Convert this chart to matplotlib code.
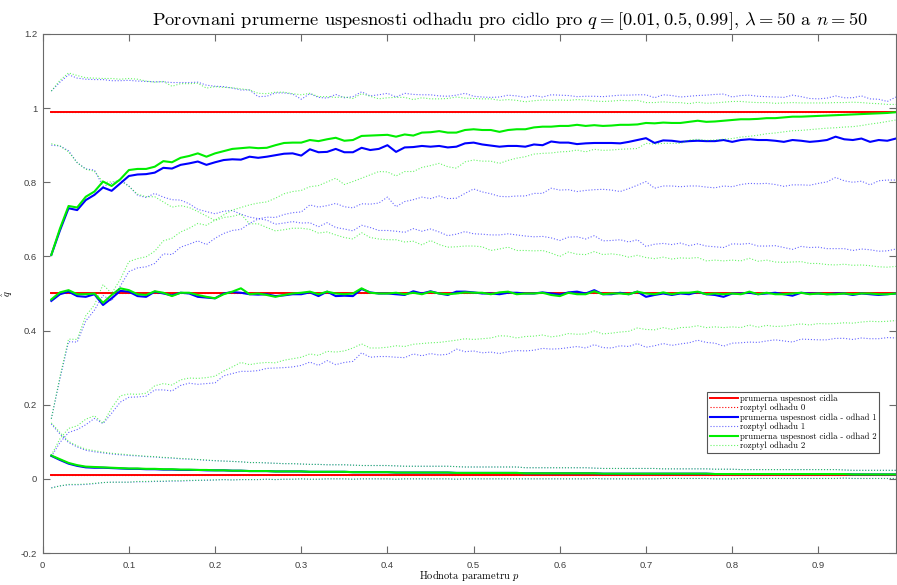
import numpy as np
import matplotlib
matplotlib.use('Agg')
import matplotlib.pyplot as plt

plt.rcParams['mathtext.fontset'] = 'cm'
plt.rcParams['axes.unicode_minus'] = False

# success probability of the sensor and parameter grid
q_values = [0.01, 0.5, 0.99]
p = np.arange(1, 100) / 100

# estimate 1 (blue): mean and spread for each q
m1_01 = [0.062, 0.051, 0.041, 0.035, 0.031, 0.030, 0.030, 0.029, 0.028, 0.027,
         0.027, 0.026, 0.026, 0.025, 0.025, 0.024, 0.024, 0.024, 0.023, 0.023,
         0.023, 0.022, 0.022, 0.021, 0.021, 0.021, 0.020, 0.020, 0.020, 0.020,
         0.019, 0.019, 0.019, 0.019, 0.019, 0.018, 0.018, 0.018, 0.018, 0.018,
         0.017, 0.017, 0.017, 0.017, 0.017, 0.017, 0.017, 0.016, 0.016, 0.016,
         0.016, 0.016, 0.016, 0.016, 0.016, 0.015, 0.015, 0.015, 0.015, 0.015,
         0.015, 0.015, 0.015, 0.015, 0.014, 0.014, 0.014, 0.014, 0.014, 0.014,
         0.014, 0.014, 0.014, 0.014, 0.014, 0.014, 0.014, 0.013, 0.013, 0.013,
         0.013, 0.013, 0.013, 0.013, 0.013, 0.013, 0.013, 0.013, 0.013, 0.013,
         0.013, 0.013, 0.013, 0.012, 0.012, 0.012, 0.012, 0.012, 0.012]
s1_01 = [0.086, 0.070, 0.057, 0.051, 0.046, 0.043, 0.040, 0.038, 0.037, 0.036,
         0.035, 0.034, 0.033, 0.032, 0.031, 0.030, 0.029, 0.028, 0.027, 0.026,
         0.025, 0.025, 0.024, 0.023, 0.023, 0.022, 0.022, 0.021, 0.021, 0.020,
         0.020, 0.020, 0.019, 0.019, 0.019, 0.019, 0.018, 0.018, 0.018, 0.018,
         0.018, 0.017, 0.017, 0.017, 0.017, 0.017, 0.017, 0.017, 0.016, 0.016,
         0.016, 0.016, 0.016, 0.016, 0.016, 0.015, 0.015, 0.015, 0.015, 0.015,
         0.015, 0.015, 0.015, 0.014, 0.014, 0.014, 0.014, 0.014, 0.014, 0.014,
         0.014, 0.013, 0.013, 0.013, 0.013, 0.013, 0.013, 0.013, 0.013, 0.013,
         0.012, 0.012, 0.012, 0.012, 0.012, 0.012, 0.012, 0.012, 0.012, 0.012,
         0.012, 0.012, 0.011, 0.011, 0.011, 0.011, 0.011, 0.011, 0.011]
m1_50 = [0.480, 0.498, 0.505, 0.493, 0.491, 0.498, 0.469, 0.487, 0.507, 0.505,
         0.493, 0.491, 0.505, 0.500, 0.495, 0.502, 0.500, 0.491, 0.489, 0.487,
         0.500, 0.504, 0.502, 0.498, 0.497, 0.498, 0.493, 0.495, 0.498, 0.498,
         0.503, 0.493, 0.505, 0.493, 0.494, 0.493, 0.512, 0.503, 0.500, 0.500,
         0.498, 0.496, 0.506, 0.500, 0.506, 0.500, 0.496, 0.505, 0.505, 0.503,
         0.500, 0.500, 0.498, 0.502, 0.502, 0.500, 0.500, 0.503, 0.500, 0.497,
         0.503, 0.505, 0.500, 0.509, 0.498, 0.498, 0.502, 0.498, 0.505, 0.491,
         0.496, 0.500, 0.496, 0.500, 0.498, 0.504, 0.498, 0.496, 0.491, 0.500,
         0.500, 0.502, 0.498, 0.500, 0.502, 0.498, 0.494, 0.502, 0.500, 0.500,
         0.498, 0.500, 0.500, 0.496, 0.500, 0.498, 0.496, 0.498, 0.500]
s1_50 = [0.420, 0.400, 0.380, 0.360, 0.345, 0.335, 0.320, 0.310, 0.300, 0.285,
         0.272, 0.268, 0.265, 0.260, 0.258, 0.250, 0.242, 0.236, 0.232, 0.228,
         0.222, 0.220, 0.212, 0.208, 0.205, 0.200, 0.194, 0.195, 0.196, 0.192,
         0.188, 0.187, 0.186, 0.185, 0.180, 0.176, 0.172, 0.175, 0.170, 0.170,
         0.170, 0.169, 0.169, 0.168, 0.168, 0.166, 0.160, 0.155, 0.162, 0.158,
         0.160, 0.158, 0.160, 0.159, 0.156, 0.155, 0.153, 0.151, 0.150, 0.146,
         0.149, 0.148, 0.147, 0.147, 0.144, 0.145, 0.143, 0.141, 0.140, 0.136,
         0.137, 0.135, 0.136, 0.136, 0.131, 0.130, 0.130, 0.130, 0.133, 0.134,
         0.133, 0.133, 0.130, 0.128, 0.127, 0.126, 0.125, 0.125, 0.124, 0.125,
         0.123, 0.121, 0.121, 0.120, 0.120, 0.120, 0.118, 0.117, 0.120]
m1_99 = [0.604, 0.670, 0.730, 0.725, 0.752, 0.766, 0.786, 0.777, 0.797, 0.817,
         0.821, 0.822, 0.826, 0.839, 0.837, 0.847, 0.851, 0.856, 0.847, 0.854,
         0.860, 0.862, 0.861, 0.869, 0.866, 0.869, 0.873, 0.877, 0.878, 0.872,
         0.889, 0.881, 0.882, 0.890, 0.881, 0.881, 0.893, 0.887, 0.890, 0.900,
         0.882, 0.894, 0.895, 0.898, 0.896, 0.898, 0.894, 0.896, 0.905, 0.907,
         0.902, 0.899, 0.896, 0.898, 0.898, 0.896, 0.902, 0.900, 0.910, 0.907,
         0.907, 0.903, 0.905, 0.906, 0.906, 0.906, 0.905, 0.909, 0.914, 0.919,
         0.906, 0.913, 0.912, 0.909, 0.911, 0.912, 0.911, 0.911, 0.914, 0.909,
         0.914, 0.916, 0.914, 0.914, 0.912, 0.909, 0.914, 0.912, 0.909, 0.911,
         0.914, 0.923, 0.916, 0.914, 0.918, 0.909, 0.914, 0.912, 0.918]
s1_99 = [0.442, 0.400, 0.360, 0.356, 0.326, 0.311, 0.291, 0.297, 0.277, 0.258,
         0.252, 0.250, 0.245, 0.232, 0.232, 0.222, 0.218, 0.214, 0.215, 0.205,
         0.198, 0.192, 0.188, 0.180, 0.165, 0.163, 0.168, 0.164, 0.160, 0.152,
         0.150, 0.148, 0.145, 0.147, 0.147, 0.150, 0.151, 0.146, 0.146, 0.140,
         0.148, 0.146, 0.142, 0.138, 0.140, 0.135, 0.138, 0.139, 0.135, 0.125,
         0.128, 0.130, 0.134, 0.137, 0.135, 0.133, 0.132, 0.130, 0.126, 0.128,
         0.127, 0.128, 0.127, 0.126, 0.125, 0.127, 0.130, 0.126, 0.122, 0.117,
         0.122, 0.123, 0.122, 0.121, 0.121, 0.122, 0.124, 0.126, 0.124, 0.121,
         0.120, 0.119, 0.118, 0.117, 0.118, 0.120, 0.121, 0.119, 0.117, 0.114,
         0.113, 0.110, 0.112, 0.114, 0.115, 0.116, 0.110, 0.106, 0.112]

# estimate 2 (green): mean and spread for each q
m2_01 = [0.063, 0.053, 0.043, 0.037, 0.033, 0.032, 0.031, 0.030, 0.029, 0.028,
         0.028, 0.027, 0.027, 0.026, 0.026, 0.025, 0.025, 0.024, 0.024, 0.023,
         0.023, 0.022, 0.022, 0.021, 0.021, 0.021, 0.020, 0.020, 0.020, 0.020,
         0.019, 0.019, 0.019, 0.019, 0.019, 0.018, 0.018, 0.018, 0.018, 0.018,
         0.017, 0.017, 0.017, 0.017, 0.017, 0.017, 0.017, 0.016, 0.016, 0.016,
         0.016, 0.016, 0.016, 0.016, 0.016, 0.015, 0.015, 0.015, 0.015, 0.015,
         0.015, 0.015, 0.015, 0.015, 0.014, 0.014, 0.014, 0.014, 0.014, 0.014,
         0.014, 0.014, 0.014, 0.014, 0.014, 0.014, 0.014, 0.013, 0.013, 0.013,
         0.013, 0.013, 0.013, 0.013, 0.013, 0.013, 0.013, 0.013, 0.013, 0.013,
         0.013, 0.013, 0.013, 0.012, 0.012, 0.012, 0.012, 0.012, 0.012]
s2_01 = [0.088, 0.072, 0.058, 0.052, 0.047, 0.044, 0.041, 0.039, 0.038, 0.037,
         0.035, 0.034, 0.033, 0.032, 0.031, 0.030, 0.029, 0.028, 0.027, 0.026,
         0.025, 0.025, 0.024, 0.023, 0.023, 0.022, 0.022, 0.021, 0.021, 0.020,
         0.020, 0.020, 0.019, 0.019, 0.019, 0.019, 0.018, 0.018, 0.018, 0.018,
         0.018, 0.017, 0.017, 0.017, 0.017, 0.017, 0.017, 0.017, 0.016, 0.016,
         0.016, 0.016, 0.016, 0.016, 0.016, 0.015, 0.015, 0.015, 0.015, 0.015,
         0.015, 0.015, 0.015, 0.014, 0.014, 0.014, 0.014, 0.014, 0.014, 0.014,
         0.014, 0.013, 0.013, 0.013, 0.013, 0.013, 0.013, 0.013, 0.013, 0.013,
         0.012, 0.012, 0.012, 0.012, 0.012, 0.012, 0.012, 0.012, 0.012, 0.012,
         0.012, 0.012, 0.011, 0.011, 0.011, 0.011, 0.011, 0.011, 0.011]
m2_50 = [0.484, 0.503, 0.509, 0.498, 0.498, 0.500, 0.475, 0.496, 0.514, 0.509,
         0.498, 0.496, 0.506, 0.502, 0.493, 0.502, 0.502, 0.496, 0.491, 0.487,
         0.498, 0.505, 0.514, 0.498, 0.500, 0.496, 0.491, 0.496, 0.500, 0.502,
         0.505, 0.498, 0.505, 0.500, 0.498, 0.500, 0.514, 0.502, 0.500, 0.500,
         0.502, 0.498, 0.502, 0.498, 0.505, 0.500, 0.498, 0.500, 0.503, 0.502,
         0.502, 0.498, 0.503, 0.505, 0.498, 0.500, 0.500, 0.502, 0.496, 0.493,
         0.502, 0.498, 0.498, 0.506, 0.498, 0.500, 0.500, 0.498, 0.505, 0.500,
         0.498, 0.503, 0.498, 0.502, 0.502, 0.505, 0.498, 0.500, 0.498, 0.500,
         0.498, 0.505, 0.498, 0.502, 0.498, 0.498, 0.500, 0.502, 0.498, 0.500,
         0.498, 0.498, 0.500, 0.498, 0.500, 0.500, 0.498, 0.498, 0.500]
s2_50 = [0.420, 0.395, 0.373, 0.355, 0.337, 0.330, 0.325, 0.305, 0.290, 0.280,
         0.270, 0.265, 0.255, 0.245, 0.240, 0.235, 0.230, 0.225, 0.218, 0.210,
         0.207, 0.203, 0.200, 0.190, 0.188, 0.182, 0.178, 0.176, 0.176, 0.174,
         0.168, 0.165, 0.161, 0.158, 0.153, 0.147, 0.150, 0.149, 0.147, 0.145,
         0.143, 0.141, 0.139, 0.133, 0.138, 0.132, 0.127, 0.126, 0.125, 0.126,
         0.124, 0.118, 0.117, 0.120, 0.118, 0.116, 0.115, 0.114, 0.113, 0.107,
         0.110, 0.108, 0.107, 0.107, 0.107, 0.107, 0.104, 0.100, 0.098, 0.097,
         0.096, 0.095, 0.095, 0.094, 0.093, 0.092, 0.090, 0.090, 0.090, 0.090,
         0.090, 0.090, 0.089, 0.088, 0.087, 0.086, 0.085, 0.084, 0.083, 0.081,
         0.080, 0.079, 0.079, 0.078, 0.077, 0.075, 0.074, 0.073, 0.073]
m2_99 = [0.604, 0.675, 0.736, 0.732, 0.761, 0.775, 0.802, 0.790, 0.808, 0.833,
         0.836, 0.836, 0.842, 0.857, 0.854, 0.866, 0.871, 0.878, 0.869, 0.878,
         0.884, 0.890, 0.892, 0.894, 0.892, 0.893, 0.900, 0.906, 0.907, 0.907,
         0.914, 0.911, 0.916, 0.920, 0.912, 0.914, 0.925, 0.926, 0.927, 0.928,
         0.923, 0.929, 0.926, 0.934, 0.935, 0.938, 0.934, 0.934, 0.941, 0.943,
         0.941, 0.941, 0.936, 0.941, 0.943, 0.943, 0.948, 0.950, 0.950, 0.952,
         0.952, 0.955, 0.952, 0.954, 0.952, 0.953, 0.955, 0.955, 0.956, 0.960,
         0.959, 0.961, 0.960, 0.960, 0.963, 0.966, 0.963, 0.964, 0.966, 0.968,
         0.970, 0.970, 0.971, 0.973, 0.973, 0.975, 0.977, 0.977, 0.978, 0.979,
         0.980, 0.981, 0.982, 0.983, 0.984, 0.985, 0.986, 0.987, 0.989]
s2_99 = [0.442, 0.400, 0.359, 0.356, 0.321, 0.306, 0.278, 0.290, 0.270, 0.247,
         0.242, 0.237, 0.228, 0.215, 0.205, 0.200, 0.195, 0.189, 0.185, 0.180,
         0.172, 0.165, 0.160, 0.155, 0.148, 0.146, 0.143, 0.137, 0.132, 0.129,
         0.126, 0.120, 0.115, 0.109, 0.118, 0.112, 0.114, 0.106, 0.098, 0.100,
         0.106, 0.100, 0.097, 0.094, 0.090, 0.087, 0.092, 0.096, 0.086, 0.083,
         0.084, 0.084, 0.085, 0.082, 0.078, 0.074, 0.072, 0.072, 0.071, 0.070,
         0.069, 0.068, 0.070, 0.065, 0.066, 0.066, 0.066, 0.065, 0.065, 0.055,
         0.056, 0.056, 0.055, 0.055, 0.049, 0.050, 0.050, 0.050, 0.050, 0.050,
         0.048, 0.046, 0.044, 0.042, 0.040, 0.039, 0.038, 0.037, 0.036, 0.035,
         0.034, 0.034, 0.033, 0.033, 0.031, 0.028, 0.026, 0.023, 0.021]

est1_mean = [m1_01, m1_50, m1_99]
est1_std = [s1_01, s1_50, s1_99]
est2_mean = [m2_01, m2_50, m2_99]
est2_std = [s2_01, s2_50, s2_99]

labels = ['prumerna uspesnost cidla', 'rozptyl odhadu 0',
          'prumerna uspesnost cidla - odhad 1', 'rozptyl odhadu 1',
          'prumerna uspesnost cidla - odhad 2', 'rozptyl odhadu 2']

fig = plt.figure(figsize=(8.97, 5.85), dpi=100)
ax = fig.add_axes([0.0476, 0.0547, 0.9512, 0.8872])

handles = []
for q, m1, s1, m2, s2 in zip(q_values, est1_mean, est1_std, est2_mean, est2_std):
    m1, s1 = np.array(m1), np.array(s1)
    m2, s2 = np.array(m2), np.array(s2)
    true_q = np.full_like(p, q)

    # true value, its (zero) spread, then both estimates with +-std
    h0, = ax.plot(p, true_q, color='r', lw=1.4)
    h0s, = ax.plot(p, true_q, color='r', lw=0.8, ls=':')
    h1, = ax.plot(p, m1, color='b', lw=1.5)
    h1s, = ax.plot(p, m1 + s1, color='b', lw=0.8, ls=':', alpha=0.6)
    ax.plot(p, m1 - s1, color='b', lw=0.8, ls=':', alpha=0.6)
    h2, = ax.plot(p, m2, color='#00ee00', lw=1.5)
    h2s, = ax.plot(p, m2 + s2, color='#00ee00', lw=0.8, ls=':', alpha=0.6)
    ax.plot(p, m2 - s2, color='#00ee00', lw=0.8, ls=':', alpha=0.6)
    if not handles:
        handles = [h0, h0s, h1, h1s, h2, h2s]

ax.set_xlim(0, 0.99)
ax.set_ylim(-0.2, 1.2)
ax.set_xticks(np.arange(10) / 10)
ax.set_xticklabels(['0', '0.1', '0.2', '0.3', '0.4', '0.5', '0.6', '0.7', '0.8', '0.9'])
ax.set_yticks([-0.2, 0, 0.2, 0.4, 0.6, 0.8, 1, 1.2])
ax.set_yticklabels(['-0.2', '0', '0.2', '0.4', '0.6', '0.8', '1', '1.2'])

# matlab-like box with inward ticks
axis_grey = '#6a6a6a'
for s in ax.spines.values():
    s.set_color(axis_grey)
    s.set_linewidth(0.8)
ax.tick_params(direction='in', length=5, width=0.8, top=True, right=True,
               colors=axis_grey, labelcolor='#404040', labelsize=6.8)
ax.tick_params(axis='x', pad=6)
ax.tick_params(axis='y', pad=4)
for t in ax.get_xticklabels() + ax.get_yticklabels():
    t.set_fontfamily('Liberation Sans')

ax.set_title(r'Porovnani prumerne uspesnosti odhadu pro cidlo pro $q = [0.01, 0.5, 0.99]$, '
             r'$\lambda = 50$ a $n = 50$',
             fontfamily='cmr10', fontsize=13.3, pad=6, x=0.548)
ax.set_xlabel(r'Hodnota parametru $p$', fontfamily='cmr10', fontsize=7.5, labelpad=-1)
ax.set_ylabel(r'$\hat{q}$', fontsize=7.5, labelpad=4)

leg = ax.legend(handles, labels, loc='lower right', bbox_to_anchor=(0.980, 0.193),
                borderaxespad=0, fancybox=False, framealpha=1, handlelength=3.2,
                handletextpad=0.2, labelspacing=0.12, borderpad=0.3,
                prop={'family': 'cmr10', 'size': 6.3})
leg.get_frame().set_edgecolor('#555555')
leg.get_frame().set_linewidth(0.8)

plt.savefig('out.png', dpi=100)
